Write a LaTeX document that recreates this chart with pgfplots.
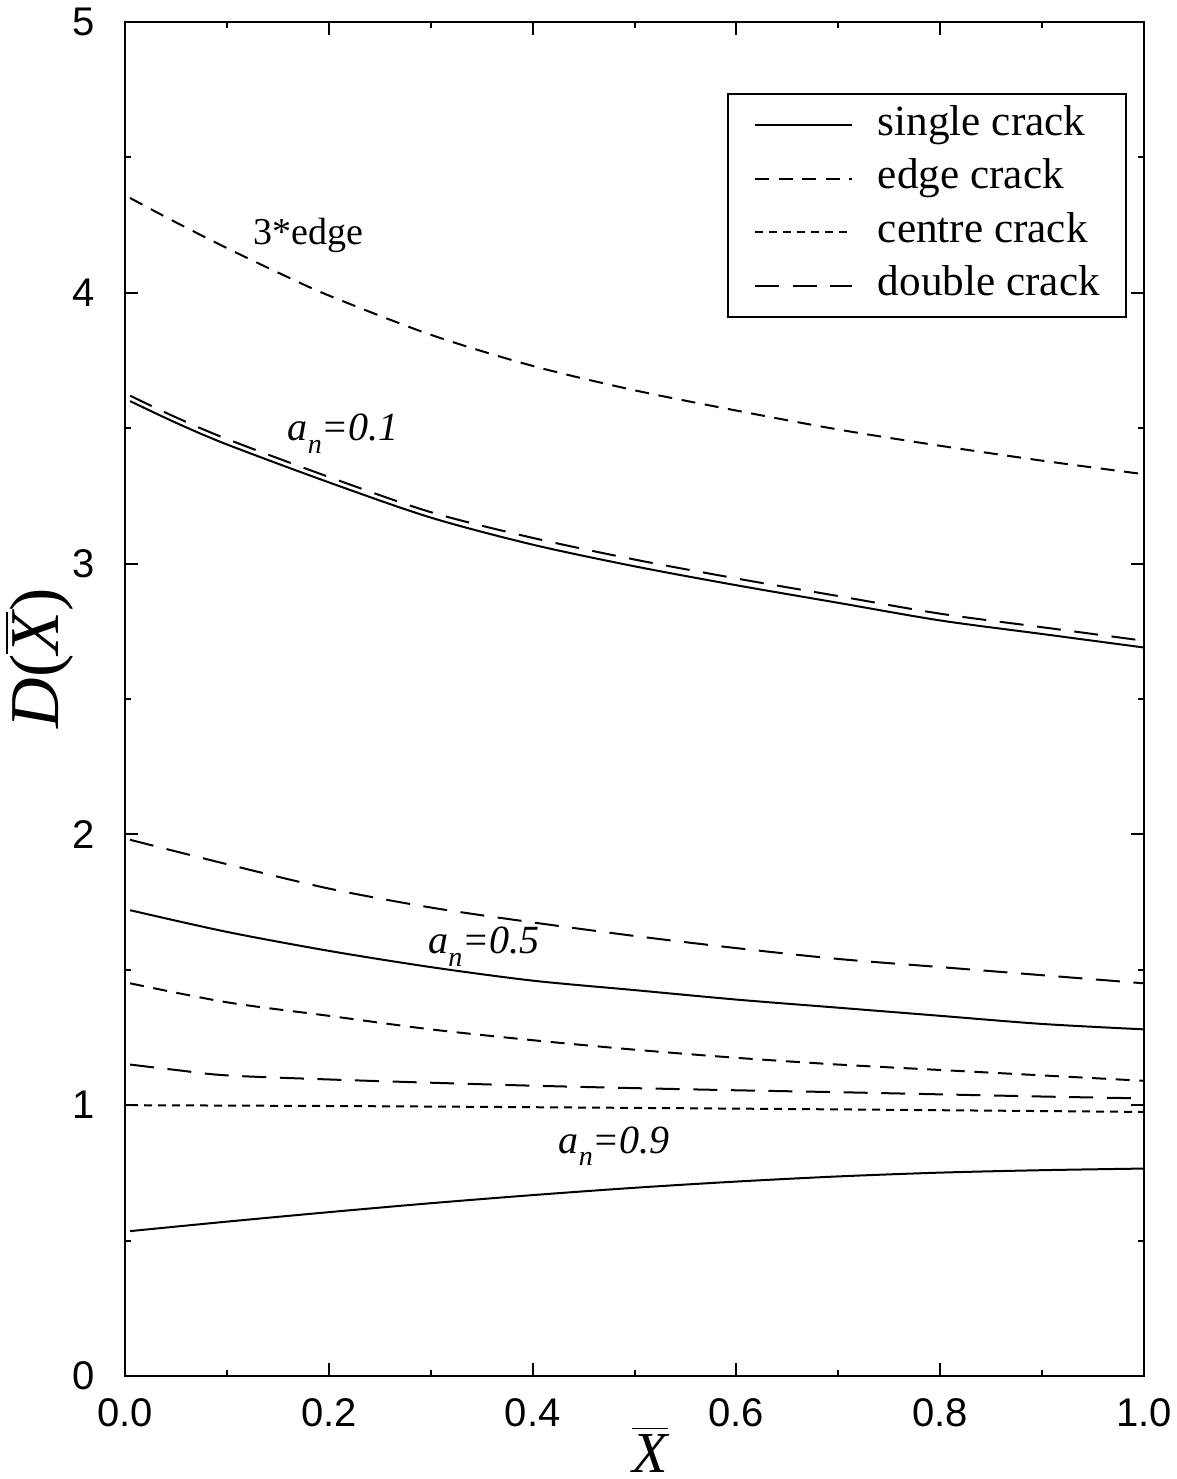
\documentclass[border=0pt]{standalone}
\usepackage{fontspec}
\setmainfont{Liberation Serif}
\setsansfont{Liberation Sans}
\usepackage{pgfplots}
\pgfplotsset{compat=1.18}

\pgfplotstableread{
x y
0.005 3.60
0.05 3.52
0.1 3.44
0.2 3.30
0.3 3.17
0.4 3.07
0.5 2.99
0.6 2.92
0.7 2.855
0.8 2.79
0.9 2.74
1.0 2.69
}\singleA
\pgfplotstableread{
x y
0.005 3.62
0.05 3.54
0.1 3.46
0.2 3.32
0.3 3.19
0.4 3.095
0.5 3.015
0.6 2.945
0.7 2.88
0.8 2.815
0.9 2.765
1.0 2.715
}\doubleA
\pgfplotstableread{
x y
0.005 4.35
0.05 4.26
0.1 4.165
0.15 4.075
0.2 3.99
0.3 3.845
0.4 3.73
0.5 3.64
0.6 3.565
0.7 3.495
0.8 3.435
0.9 3.38
1.0 3.33
}\edgeThree
\pgfplotstableread{
x y
0.005 1.98
0.1 1.89
0.2 1.80
0.3 1.73
0.4 1.675
0.5 1.625
0.6 1.58
0.7 1.54
0.8 1.51
0.9 1.48
1.0 1.45
}\doubleB
\pgfplotstableread{
x y
0.005 1.72
0.1 1.64
0.2 1.57
0.3 1.51
0.4 1.46
0.5 1.425
0.6 1.39
0.7 1.36
0.8 1.33
0.9 1.30
1.0 1.28
}\singleB
\pgfplotstableread{
x y
0.005 1.45
0.1 1.38
0.2 1.33
0.3 1.28
0.4 1.24
0.5 1.205
0.6 1.175
0.7 1.15
0.8 1.13
0.9 1.11
1.0 1.09
}\edgeB
\pgfplotstableread{
x y
0.005 1.15
0.05 1.13
0.1 1.11
0.2 1.095
0.3 1.083
0.4 1.072
0.5 1.063
0.6 1.055
0.7 1.048
0.8 1.04
0.9 1.032
1.0 1.025
}\doubleC
\pgfplotstableread{
x y
0.005 1.00
0.25 0.996
0.5 0.99
0.75 0.983
1.0 0.975
}\centreC
\pgfplotstableread{
x y
0.005 0.535
0.1 0.57
0.2 0.605
0.3 0.638
0.4 0.668
0.5 0.695
0.6 0.718
0.7 0.737
0.8 0.751
0.9 0.760
1.0 0.766
}\singleC

\begin{document}
\begin{tikzpicture}
\begin{axis}[
  scale only axis, width=254.75pt, height=338.5pt,
  xmin=0, xmax=1, ymin=0, ymax=5,
  xtick={0,0.2,0.4,0.6,0.8,1}, minor xtick={0.1,0.3,0.5,0.7,0.9},
  ytick={0,1,2,3,4,5}, minor ytick={0.5,1.5,2.5,3.5,4.5},
  tick align=inside, major tick length=3.2pt, minor tick length=1.6pt,
  every tick/.style={black, line width=0.5pt},
  axis line style={line width=0.7pt},
  /pgf/number format/assume math mode=true,
  ticklabel style={font=\sffamily\fontsize{10}{11}\selectfont},
  xticklabel style={/pgf/number format/.cd, fixed, fixed zerofill, precision=1, /tikz/.cd, yshift=-2pt},
  yticklabel style={xshift=-4pt},
  xlabel={\fontsize{14.5}{14.5}\selectfont$\overline{\mbox{\itshape X}}$},
  xlabel style={at={(axis description cs:0.515,0)}, anchor=base, yshift=-24pt},
  ylabel={\fontsize{17.5}{17.5}\selectfont\textit{D}($\overline{\mbox{\itshape X}}$)},
  ylabel style={at={(axis description cs:0,0.53)}, anchor=center, yshift=21.5pt},
  legend style={at={(rel axis cs:0.9833,0.9476)}, anchor=north east, draw=black, line width=0.6pt,
    font=\fontsize{10.8}{11}\selectfont, inner xsep=6.5pt, inner ysep=2.75pt, row sep=3.4pt,
    column sep=6.25pt, nodes={inner sep=0pt, text height=7.5pt, text depth=2.5pt}},
  legend cell align=left,
  legend image code/.code={\draw[#1, line width=0.5pt] (0pt,0pt) -- (24.25pt,0pt);},
  every axis plot/.append style={black, line width=0.5pt, smooth},
]
\addplot[solid] table {\singleA};
\addlegendentry{single crack}
\addplot[dash pattern=on 3.5pt off 2.4pt] table {\edgeThree};
\addlegendentry{edge crack}
\addplot[dash pattern=on 2pt off 1.5pt] table {\centreC};
\addlegendentry{centre crack}
\addplot[dash pattern=on 6pt off 3.4pt] table {\doubleA};
\addlegendentry{double crack}
\addplot[forget plot, solid] table {\singleB};
\addplot[forget plot, dash pattern=on 6pt off 3.4pt] table {\doubleB};
\addplot[forget plot, dash pattern=on 3.5pt off 2.4pt] table {\edgeB};
\addplot[forget plot, dash pattern=on 6pt off 3.4pt] table {\doubleC};
\addplot[forget plot, solid] table {\singleC};

\node[anchor=base west, inner sep=0pt, font=\fontsize{9.5}{10}\selectfont] at (axis cs:0.125,4.177) {3*edge};
\node[anchor=base west, inner sep=0pt, font=\fontsize{10}{10}\itshape] at (axis cs:0.159,3.454) {a\raisebox{-0.7ex}{\fontsize{7}{7}\selectfont n}=0.1};
\node[anchor=base west, inner sep=0pt, font=\fontsize{10}{10}\itshape] at (axis cs:0.297,1.561) {a\raisebox{-0.7ex}{\fontsize{7}{7}\selectfont n}=0.5};
\node[anchor=base west, inner sep=0pt, font=\fontsize{10}{10}\itshape] at (axis cs:0.425,0.823) {a\raisebox{-0.7ex}{\fontsize{7}{7}\selectfont n}=0.9};

\coordinate (SW) at (rel axis cs:0,0);
\coordinate (NE) at (rel axis cs:1,1);
\end{axis}
\pgfresetboundingbox
\path ([xshift=-31.25pt,yshift=-25.75pt]SW) rectangle ([xshift=8pt,yshift=5.5pt]NE);
\end{tikzpicture}
\end{document}
